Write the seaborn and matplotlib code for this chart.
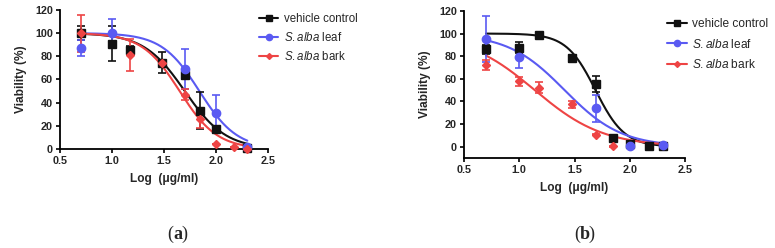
import numpy as np
import pandas as pd
import matplotlib
matplotlib.use("Agg")
import matplotlib.pyplot as plt
from matplotlib.lines import Line2D
import seaborn as sns

# ---------------- data ----------------
series_names = ["vehicle control", "S.alba leaf", "S.alba bark"]
legend_labels = ["vehicle control", r"$\it{S.alba}$ leaf", r"$\it{S.alba}$ bark"]

# Panel (a) observations
a_vc_x = [0.699, 1.0, 1.176, 1.477, 1.699, 1.845, 2.0, 2.301]
a_vc_y = [100, 91, 85.5, 74.5, 63.5, 33, 17, 0.9]
a_vc_e = [6, 15, 3, 9, 3, 16, 3, 1]
a_leaf_x = [0.699, 1.0, 1.699, 2.0, 2.301]
a_leaf_y = [87, 100.5, 69, 31, 1.5]
a_leaf_e = [7, 11.5, 17, 15.5, 1]
a_bark_x = [0.699, 1.176, 1.477, 1.699, 1.845, 2.0, 2.176, 2.301]
a_bark_y = [100, 81, 74, 47, 26, 4.5, 1.5, 0]
a_bark_e = [16, 14, 0, 5, 8, 0, 0, 0]

# Panel (b) observations
b_vc_x = [0.699, 1.0, 1.176, 1.477, 1.699, 1.845, 2.0, 2.176, 2.301]
b_vc_y = [86, 87.5, 98.5, 78, 55.5, 8, 2.5, 0.3, 0.2]
b_vc_e = [4, 5, 1, 3, 7, 0.5, 1, 0.5, 0.5]
b_leaf_x = [0.699, 1.0, 1.699, 2.0, 2.301]
b_leaf_y = [95, 79.5, 34, 0.5, 1.8]
b_leaf_e = [20.5, 10, 12, 0.5, 0.5]
b_bark_x = [0.699, 1.0, 1.176, 1.477, 1.699, 1.845]
b_bark_y = [72, 58, 52, 37.5, 10.5, 0.5]
b_bark_e = [4.5, 4, 5, 3, 0.5, 0.5]

# Fitted four-parameter logistic models: top, bottom, logIC50, hill slope
a_fit_top = [100, 100, 100]
a_fit_bottom = [0, 0, 0]
a_fit_logic50 = [1.70, 1.84, 1.65]
a_fit_hill = [2.2, 2.4, 2.4]
b_fit_top = [100, 100, 100]
b_fit_bottom = [0, 0, 0]
b_fit_logic50 = [1.69, 1.41, 1.14]
b_fit_hill = [3.3, 1.69, 1.40]

x_ticks = [0.5, 1.0, 1.5, 2.0, 2.5]
a_y_ticks = [0, 20, 40, 60, 80, 100, 120]
b_y_ticks = [0, 20, 40, 60, 80, 100, 120]

colors = ["#111111", "#5a5af2", "#ee4444"]
markers = ["s", "o", "D"]
msizes = [6, 6, 4.5]

# ---------------- style ----------------
sns.set_theme(style="ticks")
plt.rcParams["font.family"] = ["Liberation Sans", "DejaVu Sans"]
plt.rcParams["mathtext.fontset"] = "custom"
plt.rcParams["mathtext.it"] = "Liberation Sans:italic"
plt.rcParams["mathtext.rm"] = "Liberation Sans"

fig = plt.figure(figsize=(7.75, 2.48), dpi=100)
ax_a = fig.add_axes([0.0774, 0.399, 0.2684, 0.561])
ax_b = fig.add_axes([0.5987, 0.363, 0.2852, 0.593])


def draw_panel(ax, obs, fits, ylim, yticks):
    xs_curve = np.linspace(0.699, 2.301, 200)
    frames = []
    for name, (top, bot, c, h) in zip(series_names, fits):
        yc = bot + (top - bot) / (1 + 10 ** ((xs_curve - c) * h))
        frames.append(pd.DataFrame({"x": xs_curve, "y": yc, "series": name}))
    curves = pd.concat(frames)
    sns.lineplot(data=curves, x="x", y="y", hue="series", palette=colors,
                 hue_order=series_names, ax=ax, legend=False, linewidth=1.5,
                 zorder=2)
    for i, (xs, ys, es) in enumerate(obs):
        ax.errorbar(xs, ys, yerr=es, fmt="none", ecolor=colors[i],
                    elinewidth=1.2, capsize=3, capthick=1.2, zorder=3)
        ax.plot(xs, ys, linestyle="none", marker=markers[i], ms=msizes[i],
                color=colors[i], zorder=4, clip_on=False)
    ax.set_xlim(0.5, 2.5)
    ax.set_ylim(*ylim)
    ax.set_xticks(x_ticks)
    ax.set_xticklabels([f"{t:.1f}" for t in x_ticks])
    ax.set_yticks(yticks)
    ax.set_xlabel("Log  (\u03bcg/ml)", fontsize=8.6, fontweight="bold", labelpad=5)
    ax.set_ylabel("Viability (%)", fontsize=8.6, fontweight="bold", labelpad=6)
    for lab in ax.get_xticklabels() + ax.get_yticklabels():
        lab.set_fontweight("bold")
        lab.set_fontsize(7.8)
    ax.tick_params(length=3, width=1.2, pad=2, color="black")
    for s in ["left", "bottom"]:
        ax.spines[s].set_linewidth(1.3)
        ax.spines[s].set_color("black")
    sns.despine(ax=ax)
    ax.grid(False)


draw_panel(ax_a,
           [(a_vc_x, a_vc_y, a_vc_e), (a_leaf_x, a_leaf_y, a_leaf_e), (a_bark_x, a_bark_y, a_bark_e)],
           list(zip(a_fit_top, a_fit_bottom, a_fit_logic50, a_fit_hill)),
           (0, 120), a_y_ticks)
draw_panel(ax_b,
           [(b_vc_x, b_vc_y, b_vc_e), (b_leaf_x, b_leaf_y, b_leaf_e), (b_bark_x, b_bark_y, b_bark_e)],
           list(zip(b_fit_top, b_fit_bottom, b_fit_logic50, b_fit_hill)),
           (-10, 120), b_y_ticks)

handles = [Line2D([0], [0], color=colors[i], marker=markers[i], ms=msizes[i] - 1.5, lw=1.5)
           for i in range(3)]

fig.legend(handles, legend_labels, loc="upper left", bbox_to_anchor=(0.328, 0.965),
           frameon=False, fontsize=8.3, handlelength=1.7, handletextpad=0.45,
           labelspacing=0.5, borderaxespad=0)
fig.legend(handles, legend_labels, loc="upper left", bbox_to_anchor=(0.854, 0.945),
           frameon=False, fontsize=8.6, handlelength=1.7, handletextpad=0.45,
           labelspacing=0.6, borderaxespad=0)

cap_fs = 13
cap_y = 0.055
for xa, letter in [(0.2232, "a"), (0.7484, "b")]:
    fig.text(xa, cap_y, "(", fontsize=cap_fs, family="Liberation Serif", ha="right", va="center")
    fig.text(xa, cap_y, letter, fontsize=cap_fs, family="Liberation Serif",
             fontweight="bold", ha="left", va="center")
    fig.text(xa + 0.0112, cap_y, ")", fontsize=cap_fs, family="Liberation Serif",
             ha="left", va="center")

fig.savefig("out.png", dpi=100, facecolor="white")
